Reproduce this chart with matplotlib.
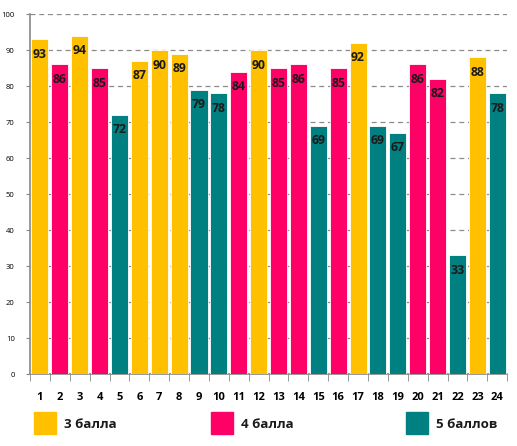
import matplotlib
matplotlib.use('Agg')
import matplotlib.pyplot as plt
from matplotlib.patches import Rectangle

# data
students = [str(i) for i in range(1, 25)]
scores = [93, 86, 94, 85, 72, 87, 90, 89, 79, 78, 84, 90,
          85, 86, 69, 85, 92, 69, 67, 86, 82, 33, 88, 78]
grades = [3, 4, 3, 4, 5, 3, 3, 3, 5, 5, 4, 3,
          4, 4, 5, 4, 3, 5, 5, 4, 4, 5, 3, 5]
grade_labels = {3: '3 балла', 4: '4 балла', 5: '5 баллов'}
grade_colors = {3: '#FFC000', 4: '#FF0066', 5: '#008080'}

plt.rcParams['font.family'] = ['Open Sans', 'DejaVu Sans']

fig = plt.figure(figsize=(5.17, 4.46), dpi=100)
ax = fig.add_axes([0.058, 0.1614, 0.923, 0.8072])

x = list(range(len(scores)))
colors = [grade_colors[g] for g in grades]
ax.bar(x, scores, width=0.86, color=colors, edgecolor='white', linewidth=0.6, zorder=3)

for xi, v in zip(x, scores):
    ax.text(xi, v - 4.2, str(v), ha='center', va='center', fontsize=8.8,
            fontweight='bold', color='#1a1a1a', zorder=4)

ax.set_xlim(-0.5, len(scores) - 0.5)
ax.set_ylim(0, 100)
ax.set_yticks(range(0, 101, 10))
ax.tick_params(axis='y', labelsize=5.5, length=3, color='#888888', pad=8)
ax.yaxis.grid(True, linestyle=(0, (4, 3)), color='#8c8c8c', linewidth=0.9, zorder=0)

ax.set_xticks(x)
ax.set_xticklabels(students, fontsize=8, fontweight='bold')
ax.tick_params(axis='x', length=0, pad=13)
ax.set_xticks([i - 0.5 for i in range(len(scores) + 1)], minor=True)
ax.tick_params(axis='x', which='minor', length=5, color='#888888')

for side in ('top', 'right'):
    ax.spines[side].set_visible(False)
for side in ('left', 'bottom'):
    ax.spines[side].set_color('#888888')
    ax.spines[side].set_linewidth(1.2)

# legend drawn in figure pixel coordinates
W, H = 517, 446
for g, px in zip([3, 4, 5], [34, 211, 406]):
    fig.patches.append(Rectangle((px / W, (H - 434) / H), 22 / W, 22 / H,
                                 transform=fig.transFigure, color=grade_colors[g]))
    fig.text((px + 30) / W, (H - 424) / H, grade_labels[g], fontsize=9.5,
             fontweight='bold', va='center', ha='left', color='#1a1a1a')

fig.savefig('out.png', dpi=100)
